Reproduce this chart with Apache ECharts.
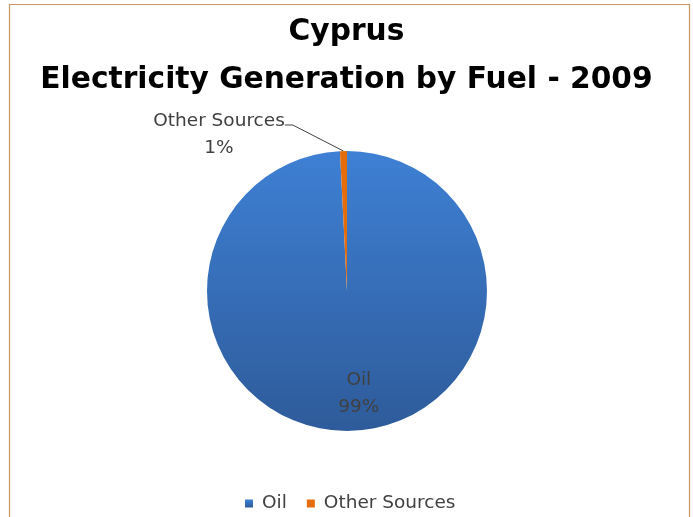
<!DOCTYPE html>
<html>
<head>
<meta charset="utf-8">
<script src="https://cdn.jsdelivr.net/npm/echarts@6/dist/echarts.min.js"></script>
<style>
html,body{margin:0;padding:0;background:#fff;}
#main{width:693px;height:517px;}
</style>
</head>
<body>
<div id="main"></div>
<script>
var titleLines = ['Cyprus', 'Electricity Generation by Fuel - 2009'];
var categories = ['Oil', 'Other Sources'];
var values = [99.2, 0.8];
var colors = ['#3a78c8', '#e46c0a'];

var chart = echarts.init(document.getElementById('main'));
var total = values.reduce(function (a, b) { return a + b; }, 0);
var FONT = '"DejaVu Sans", sans-serif';

function pct(v) { return Math.round(v / total * 100) + '%'; }

var data = categories.map(function (c, i) {
  var item = { name: c, value: values[i] };
  if (i === 0) {
    item.itemStyle = {
      color: new echarts.graphic.LinearGradient(0, 0, 0, 1, [
        { offset: 0, color: '#3e80d4' },
        { offset: 1, color: '#2e5b9a' }
      ])
    };
    item.label = { position: 'inside' };
    item.labelLine = { show: false };
  } else {
    item.itemStyle = { color: colors[i] };
    item.label = {
      formatter: function (p) {
        return '{s| }\n{t|' + p.name + '}\n{t|' + pct(p.value) + '}';
      },
      rich: {
        s: { fontSize: 10, lineHeight: 20 },
        t: { fontFamily: FONT, fontSize: 18.5, lineHeight: 27, color: '#404040', align: 'center' }
      }
    };
  }
  return item;
});

chart.setOption({
  backgroundColor: '#ffffff',
  animation: false,
  title: {
    text: titleLines.join('\n'),
    left: 'center',
    top: 3,
    textStyle: {
      fontFamily: FONT,
      fontWeight: 'bold',
      fontSize: 29.7,
      lineHeight: 48,
      color: '#000000'
    }
  },
  legend: {
    top: 494,
    left: 245,
    padding: 0,
    itemWidth: 8,
    itemHeight: 8,
    itemGap: 20,
    icon: 'rect',
    data: categories,
    textStyle: { fontFamily: FONT, fontSize: 18.5, color: '#404040', padding: [0, 0, 0, 4] }
  },
  graphic: [{
    type: 'rect',
    shape: { x: 9.5, y: 4.5, width: 680, height: 530 },
    style: { fill: null, stroke: '#c9955c', lineWidth: 1.2 },
    z: 10
  }],
  series: [{
    type: 'pie',
    center: [347, 291],
    radius: 140,
    startAngle: 90,
    clockwise: true,
    data: data,
    label: {
      show: true,
      fontFamily: FONT,
      fontSize: 18.5,
      lineHeight: 27,
      color: '#404040',
      formatter: function (p) {
        return p.name + '\n' + pct(p.value);
      }
    },
    labelLine: {
      show: true,
      length: 20,
      length2: 8,
      lineStyle: { color: '#404040', width: 1 }
    },
    labelLayout: function (p) {
      if (p.dataIndex === 0) {
        return { dx: 10, dy: 30 };
      }
      return { x: 219, y: 125, align: 'center', verticalAlign: 'middle' };
    }
  }]
});
</script>
</body>
</html>
